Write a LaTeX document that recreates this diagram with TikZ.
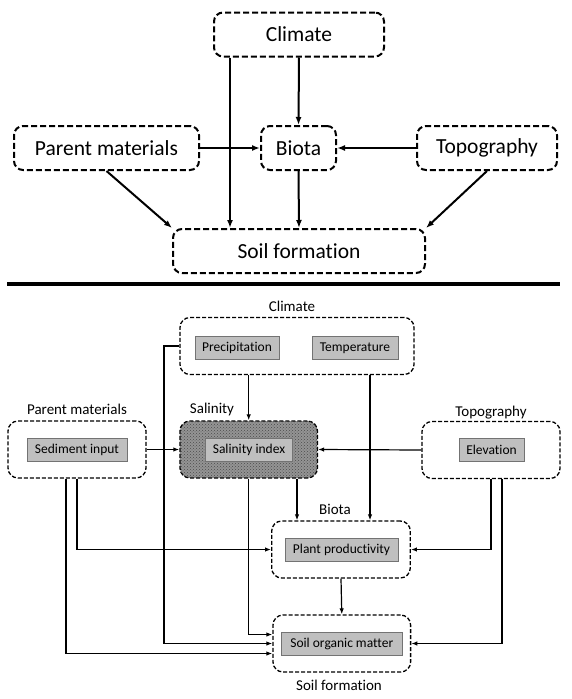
\documentclass[tikz,border=0pt]{standalone}
\usepackage{fontspec}
\setmainfont{Carlito}[Ligatures=NoCommon]
\usetikzlibrary{arrows.meta,patterns}
\tikzset{
  topbox/.style={draw, line width=2pt, dash pattern=on 6pt off 3pt, rounded corners=9pt,
    minimum height=44pt, inner sep=0pt, font=\fontsize{21.5}{24}\selectfont},
  groupbox/.style={draw, line width=1.3pt, dash pattern=on 4pt off 2pt, rounded corners=10pt,
    minimum height=57pt, inner sep=0pt},
  itembox/.style={draw=black!55, fill=black!25, line width=0.9pt, minimum height=23pt,
    inner sep=0pt, font=\fontsize{13.5}{15}\selectfont},
  grouplabel/.style={inner sep=0pt, font=\fontsize{15}{17}\selectfont},
}
\begin{document}
\begin{tikzpicture}[x=1pt,y=-1pt]
      \useasboundingbox (0,0) rectangle (572,699);
      % upper panel
      \draw
        (299,34.5) node[topbox, minimum width=170pt] (clim){Climate}
        (106.5,148) node[topbox, minimum width=185pt] (par){Parent materials}
        (298.5,148) node[topbox, minimum width=75pt] (bio){Biota}
        (487,148) node[topbox, minimum width=140pt] (topo){Topography}
        (299,251) node[topbox, minimum width=252pt] (soil){Soil formation};
      \coordinate (dx) at (230,0);
      \begin{scope}[line width=2pt, -{Latex[length=8pt,width=6pt]}]
        \draw (clim.south -| dx) to (soil.north -| dx);
        \draw (clim.south) to (bio.north);
        \draw (par.east) to (bio.west);
        \draw (topo.west) to (bio.east);
        \draw (bio.south) to (soil.north);
        \draw (par.south) to (soil.north west);
        \draw (topo.south) to (soil.north east);
      \end{scope}
      \draw[line width=3.5pt] (7,284) -- (560,284);
      % lower panel
      \draw
        (297,346) node[groupbox, minimum width=234pt] (Clim){}
        (77,449.5) node[groupbox, minimum width=138pt] (Par){}
        (248.7,449.5) node[groupbox, minimum width=137.5pt, fill=black!42,
          postaction={pattern=crosshatch dots, pattern color=black!70}] (Sal){}
        (491,450) node[groupbox, minimum width=138pt] (Topo){}
        (341,549.5) node[groupbox, minimum width=138.6pt] (Bio){}
        (341.8,643.5) node[groupbox, minimum width=137.6pt] (Soil){};
      \draw
        (237,348) node[itembox, minimum width=84pt] (prec){Precipitation}
        (355,348) node[itembox, minimum width=86pt] (temp){Temperature}
        (77,450) node[itembox, minimum width=100pt] (sed){Sediment input}
        (249,450) node[itembox, minimum width=87pt] (sidx){Salinity index}
        (491.5,450) node[itembox, minimum width=65pt] (elev){Elevation}
        (341.5,550) node[itembox, minimum width=113pt] (prod){Plant productivity}
        (341.8,643.5) node[itembox, minimum width=121.6pt] (som){Soil organic matter};
      \draw
        (292,306) node[grouplabel] (climlbl){Climate}
        (77,409) node[grouplabel] (parlbl){Parent materials}
        (212,409) node[grouplabel] (sallbl){Salinity}
        (491,413) node[grouplabel] (topolbl){Topography}
        (335,509) node[grouplabel] (biolbl){Biota}
        (339,685) node[grouplabel] (soillbl){Soil formation};
      \coordinate (ax) at (164,0);
      \coordinate (bx) at (370,0);
      \coordinate (cx) at (297,0);
      \begin{scope}[line width=1.2pt, -{Latex[length=6pt,width=4.5pt]}]
        \draw (Clim.south -| Sal) to (Sal.north);
        \draw (Clim.south -| bx) to (Bio.north -| bx);
        \draw (Clim.west) -- (Clim.west -| ax) |- (Soil.west);
        \draw (Par.east) to (Sal.west);
        \draw (Topo.west) to (Sal.east);
        \draw (Sal.south) |- ([yshift=9pt]Soil.west);
        \draw (Sal.south -| cx) to (Bio.north -| cx);
        \draw (Par.south) |- (Bio.west);
        \draw ([xshift=-11pt]Par.south) |- ([yshift=-10pt]Soil.west);
        \draw (Topo.south) |- (Bio.east);
        \draw ([xshift=11pt]Topo.south) |- (Soil.east);
        \draw (Bio.south) to (Soil.north);
      \end{scope}
    \end{tikzpicture}
\end{document}
